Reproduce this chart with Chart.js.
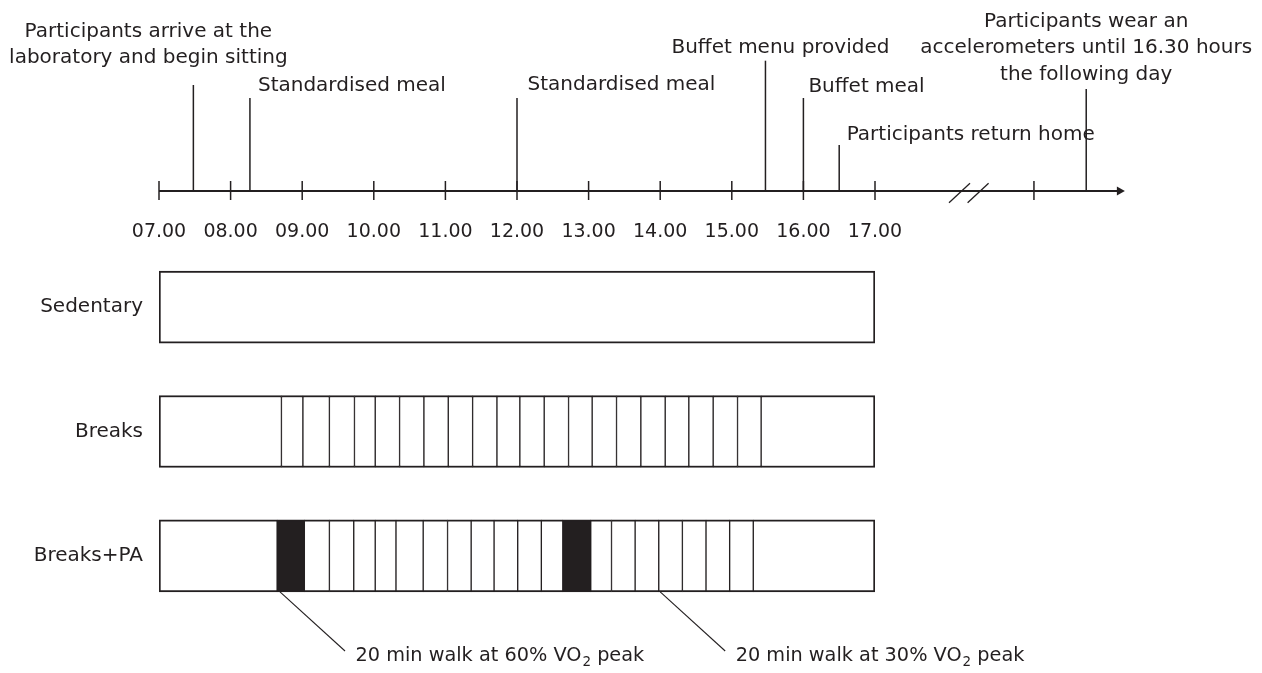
<!DOCTYPE html>
<html>
<head>
<meta charset="utf-8">
<title>Study protocol timeline</title>
<script src="https://cdn.jsdelivr.net/npm/chart.js@4.4.1/dist/chart.umd.min.js"></script>
<style>
  html, body { margin: 0; padding: 0; background: #fff; }
  #wrap { width: 1262px; height: 673px; }
</style>
</head>
<body>
<div id="wrap"><canvas id="protocol" width="1262" height="673"></canvas></div>
<script>
// ---- data (clock hours, decimal) ----
const hourTicks = [7, 8, 9, 10, 11, 12, 13, 14, 15, 16, 17];
const hourLabels = ['07.00', '08.00', '09.00', '10.00', '11.00', '12.00', '13.00', '14.00', '15.00', '16.00', '17.00'];
// positions past the axis break (next day, not to scale)
const nextDayTick = 19.22;
const axisBreaks = [18.18, 18.44];
const axisEnd = 20.49;

const eventTimes = [7.48, 8.27, 12.0, 15.47, 16.0, 16.5, 19.95];
const eventLabels = [
  ['Participants arrive at the', 'laboratory and begin sitting'],
  ['Standardised meal'],
  ['Standardised meal'],
  ['Buffet menu provided'],
  ['Buffet meal'],
  ['Participants return home'],
  ['Participants wear an', 'accelerometers until 16.30 hours', 'the following day']
];

const rows = ['Sedentary', 'Breaks', 'Breaks+PA'];
const sedentaryBounds = [7, 17];
const breaksBounds = [7, 8.71, 9.01, 9.38, 9.73, 10.02, 10.36, 10.70, 11.04, 11.38, 11.72,
  12.04, 12.38, 12.72, 13.05, 13.39, 13.73, 14.07, 14.40, 14.74, 15.08, 15.41, 17];
const breaksPaBounds = [7, 8.65, 9.03, 9.38, 9.72, 10.02, 10.31, 10.69, 11.03, 11.36, 11.68,
  12.01, 12.34, 12.64, 13.03, 13.32, 13.65, 13.98, 14.31, 14.64, 14.97, 15.30, 17];
const walkStarts = [8.65, 12.64];

const noteTimes = [8.69, 14.0];
const noteTexts = [
  ['20 min walk at 60% VO', '2', ' peak'],
  ['20 min walk at 30% VO', '2', ' peak']
];

// ---- layout / style ----
const INK = '#231f20';
const FONT = '"DejaVu Sans", "Liberation Sans", sans-serif';
const AXIS_Y = 191;
const BAR_H = 72;
const eventLayout = [
  { top: 85, align: 'center', dx: -45, baselines: [36.7, 62.8] },
  { top: 98, align: 'left', dx: 8, baselines: [91.3] },
  { top: 98, align: 'left', dx: 10.5, baselines: [89.5] },
  { top: 60.7, align: 'left', dx: -94, baselines: [53.3] },
  { top: 98, align: 'left', dx: 5, baselines: [91.5] },
  { top: 145, align: 'left', dx: 7.5, baselines: [140] },
  { top: 89, align: 'center', dx: 0, baselines: [26.7, 53.3, 80] }
];

// build bar segments from the boundary lists
function rowSegments(row, bounds) {
  const out = [];
  for (let i = 0; i < bounds.length - 1; i++) {
    out.push({
      x: [bounds[i], bounds[i + 1]],
      y: row,
      walk: walkStarts.includes(bounds[i]) && row === 'Breaks+PA',
      first: i === 0,
      last: i === bounds.length - 2
    });
  }
  return out;
}
const segments = [
  ...rowSegments(rows[0], sedentaryBounds),
  ...rowSegments(rows[1], breaksBounds),
  ...rowSegments(rows[2], breaksPaBounds)
];

const timelinePlugin = {
  id: 'timeline',
  afterDraw(chart) {
    const { ctx, scales: { x, y } } = chart;
    const px = v => x.getPixelForValue(v);
    ctx.save();
    ctx.strokeStyle = INK;
    ctx.fillStyle = INK;

    // axis line + arrow
    const tip = px(axisEnd);
    ctx.lineWidth = 2;
    ctx.beginPath();
    ctx.moveTo(px(hourTicks[0]), AXIS_Y);
    ctx.lineTo(tip - 6, AXIS_Y);
    ctx.stroke();
    ctx.beginPath();
    ctx.moveTo(tip, AXIS_Y);
    ctx.lineTo(tip - 8, AXIS_Y - 4.5);
    ctx.lineTo(tip - 8, AXIS_Y + 4.5);
    ctx.closePath();
    ctx.fill();

    // ticks
    ctx.lineWidth = 1.5;
    [...hourTicks, nextDayTick].forEach(t => {
      ctx.beginPath();
      ctx.moveTo(px(t), AXIS_Y - 10);
      ctx.lineTo(px(t), AXIS_Y + 9);
      ctx.stroke();
    });

    // break marks
    ctx.lineWidth = 1.3;
    axisBreaks.forEach(t => {
      ctx.beginPath();
      ctx.moveTo(px(t) - 10.5, AXIS_Y + 11.7);
      ctx.lineTo(px(t) + 10.5, AXIS_Y - 7.7);
      ctx.stroke();
    });

    // tick labels
    ctx.font = '19px ' + FONT;
    ctx.textAlign = 'center';
    ctx.textBaseline = 'alphabetic';
    hourTicks.forEach((t, i) => ctx.fillText(hourLabels[i], px(t), 236.5));

    // events
    ctx.font = '20px ' + FONT;
    eventTimes.forEach((t, i) => {
      const lay = eventLayout[i];
      const ex = px(t);
      ctx.lineWidth = 1.5;
      ctx.beginPath();
      ctx.moveTo(ex, AXIS_Y);
      ctx.lineTo(ex, lay.top);
      ctx.stroke();
      ctx.textAlign = lay.align;
      eventLabels[i].forEach((line, j) => ctx.fillText(line, ex + lay.dx, lay.baselines[j]));
    });

    // walk notes with leaders
    const barBottom = y.getPixelForValue(2) + BAR_H / 2;
    noteTimes.forEach((t, i) => {
      const sx = px(t);
      const ex = sx + 65, ey = 651;
      ctx.lineWidth = 1.1;
      ctx.beginPath();
      ctx.moveTo(sx, barBottom);
      ctx.lineTo(ex, ey);
      ctx.stroke();
      const [main, sub, tail] = noteTexts[i];
      let tx = ex + 10.5;
      const base = 660.5;
      ctx.textAlign = 'left';
      ctx.font = '19.3px ' + FONT;
      ctx.fillText(main, tx, base);
      tx += ctx.measureText(main).width + 1;
      ctx.font = '13.5px ' + FONT;
      ctx.fillText(sub, tx, base + 5.5);
      tx += ctx.measureText(sub).width;
      ctx.font = '19.3px ' + FONT;
      ctx.fillText(tail, tx, base);
    });
    ctx.restore();
  }
};

new Chart(document.getElementById('protocol'), {
  type: 'bar',
  data: {
    labels: rows,
    datasets: [{
      data: segments,
      backgroundColor: c => (c.raw && c.raw.walk ? INK : '#ffffff'),
      borderColor: INK,
      borderWidth: c => {
        const r = c.raw || {};
        return { top: 2, bottom: 2, left: r.first ? 2 : 1, right: r.last ? 2 : 1 };
      },
      borderSkipped: false,
      barThickness: BAR_H
    }]
  },
  options: {
    indexAxis: 'y',
    responsive: false,
    devicePixelRatio: 1,
    animation: false,
    layout: { padding: { top: 245, bottom: 55, left: 0, right: 387 } },
    scales: {
      x: { type: 'linear', min: 7, max: 17, display: false },
      y: {
        type: 'category',
        offset: true,
        grid: { display: false, drawTicks: false },
        border: { display: false },
        ticks: { color: INK, font: { family: FONT, size: 20 }, padding: 16 },
        afterFit: s => { s.width = 159; }
      }
    },
    plugins: { legend: { display: false }, tooltip: { enabled: false } }
  },
  plugins: [timelinePlugin]
});
</script>
</body>
</html>
